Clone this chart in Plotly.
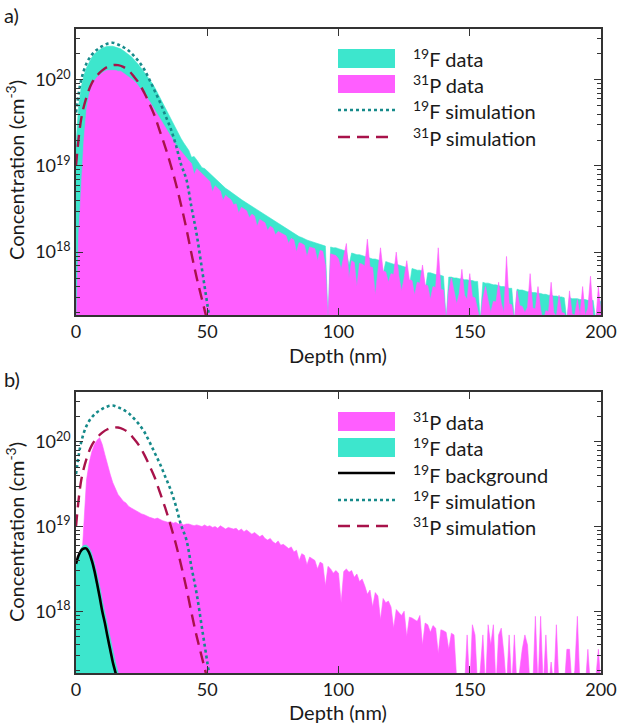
import plotly.graph_objects as go

# ---------------- data (log10 of concentration, cm^-3) ----------------
depth_nm = list(range(0, 201))

# panel a) 19F data
f_data_a_log = [
    19.25, 19.70, 19.92, 20.05, 20.14, 20.21, 20.26, 20.30, 20.33, 20.35,
    20.37, 20.38, 20.39, 20.39, 20.39, 20.38, 20.37, 20.36, 20.34, 20.32,
    20.29, 20.27, 20.24, 20.21, 20.17, 20.13, 20.09, 20.05, 20.01, 19.96,
    19.91, 19.85, 19.79, 19.73, 19.67, 19.61, 19.55, 19.49, 19.43, 19.37,
    19.32, 19.27, 19.22, 19.18, 19.10, 19.11, 19.07, 19.03, 18.98, 18.97,
    18.94, 18.91, 18.88, 18.85, 18.82, 18.80, 18.77, 18.74, 18.72, 18.70,
    18.68, 18.66, 18.63, 18.61, 18.59, 18.57, 18.55, 18.53, 18.51, 18.49,
    18.47, 18.45, 18.43, 18.41, 18.39, 18.37, 18.35, 18.33, 18.31, 18.29,
    18.28, 18.26, 18.24, 18.22, 18.20, 18.18, 18.17, 18.15, 18.14, 18.13,
    18.12, 18.11, 18.10, 18.09, 18.08, 18.07, 17.20, 18.06, 18.05, 18.05,
    18.04, 18.03, 18.02, 18.01, 17.85, 17.99, 17.98, 17.97, 17.97, 17.96,
    17.95, 17.94, 17.93, 17.92, 17.92, 17.91, 17.90, 17.75, 17.89, 17.88,
    17.87, 17.86, 17.86, 17.85, 17.84, 17.83, 17.82, 17.60, 17.81, 17.80,
    17.79, 17.79, 17.78, 17.55, 17.76, 17.76, 17.75, 17.74, 17.74, 17.73,
    17.72, 17.20, 17.71, 17.71, 17.70, 17.70, 17.69, 17.69, 17.68, 17.68,
    17.67, 17.67, 17.66, 17.66, 17.20, 17.65, 17.64, 17.64, 17.63, 17.62,
    17.62, 17.61, 17.60, 17.60, 17.59, 17.58, 17.58, 17.20, 17.57, 17.56,
    17.56, 17.55, 17.54, 17.54, 17.53, 17.53, 17.52, 17.52, 17.51, 17.51,
    17.50, 17.50, 17.49, 17.49, 17.48, 17.48, 17.47, 17.20, 17.47, 17.46,
    17.46, 17.46, 17.45, 17.45, 17.45, 17.44, 17.44, 17.44, 17.20, 17.43,
    17.43,
]

# panel a) 31P data
p_data_a_log = [
    17.00, 18.20, 18.75, 19.30, 19.65, 19.83, 19.93, 19.99, 20.03, 20.06,
    20.08, 20.10, 20.11, 20.11, 20.11, 20.11, 20.10, 20.10, 20.08, 20.06,
    20.04, 20.02, 19.99, 19.96, 19.92, 19.88, 19.84, 19.80, 19.75, 19.70,
    19.65, 19.60, 19.54, 19.49, 19.44, 19.39, 19.34, 19.29, 19.25, 19.21,
    19.17, 19.13, 19.10, 19.06, 19.03, 18.90, 18.97, 18.94, 18.91, 18.88,
    18.85, 18.82, 18.70, 18.77, 18.74, 18.71, 18.60, 18.66, 18.63, 18.61,
    18.55, 18.56, 18.45, 18.52, 18.50, 18.48, 18.40, 18.44, 18.42, 18.30,
    18.38, 18.36, 18.34, 18.25, 18.30, 18.28, 18.20, 18.24, 18.22, 18.21,
    18.19, 18.10, 18.16, 18.14, 18.00, 18.11, 18.10, 18.08, 17.95, 18.06,
    18.05, 18.04, 17.90, 18.02, 18.01, 17.85, 17.20, 17.98, 17.97, 17.96,
    17.92, 17.80, 17.95, 18.10, 17.70, 17.90, 17.88, 17.60, 17.87, 17.86,
    17.84, 18.15, 17.83, 17.82, 17.50, 17.80, 18.05, 17.78, 17.77, 17.65,
    17.75, 17.74, 18.00, 17.72, 17.55, 17.70, 17.90, 17.68, 17.67, 17.50,
    17.65, 17.64, 17.85, 17.62, 17.61, 17.45, 17.60, 17.59, 18.05, 17.57,
    17.56, 17.20, 17.55, 17.70, 17.53, 17.40, 17.52, 17.80, 17.50, 17.45,
    17.75, 17.48, 17.47, 17.35, 17.20, 17.46, 17.60, 17.44, 17.30, 17.43,
    17.42, 17.65, 17.41, 17.30, 17.95, 17.40, 17.39, 17.20, 17.55, 17.38,
    17.37, 17.30, 17.36, 17.75, 17.35, 17.34, 17.60, 17.33, 17.20, 17.32,
    17.31, 17.65, 17.30, 17.25, 17.50, 17.30, 17.29, 17.20, 17.55, 17.28,
    17.27, 17.45, 17.27, 17.60, 17.26, 17.35, 17.72, 17.26, 17.20, 17.60,
    17.30,
]

# panel b) 31P data
p_data_b_log = [
    18.00, 18.20, 18.50, 19.10, 19.55, 19.75, 19.88, 19.97, 20.02, 20.05,
    19.97, 19.85, 19.72, 19.62, 19.52, 19.45, 19.38, 19.34, 19.30, 19.28,
    19.24, 19.22, 19.20, 19.19, 19.17, 19.15, 19.14, 19.12, 19.11, 19.10,
    19.09, 19.10, 19.08, 19.07, 19.06, 19.05, 19.06, 19.04, 19.05, 19.03,
    19.04, 19.02, 19.03, 19.03, 19.02, 19.01, 19.02, 19.01, 19.00, 19.02,
    19.00, 19.01, 18.99, 19.00, 18.98, 19.01, 18.99, 18.97, 18.99, 18.98,
    18.97, 18.98, 18.95, 18.97, 18.94, 18.96, 18.93, 18.91, 18.93, 18.90,
    18.88, 18.90, 18.86, 18.84, 18.86, 18.82, 18.80, 18.83, 18.78, 18.79,
    18.77, 18.74, 18.76, 18.70, 18.72, 18.60, 18.68, 18.66, 18.55, 18.64,
    18.62, 18.60, 18.50, 18.58, 18.56, 18.30, 18.53, 18.50, 18.45, 18.48,
    18.45, 18.10, 18.47, 18.50, 18.46, 18.48, 18.40, 18.44, 18.35, 18.38,
    18.30, 18.20, 18.25, 18.05, 18.22, 18.18, 17.90, 18.15, 18.10, 18.12,
    18.05, 17.80, 18.02, 17.98, 17.95, 18.00, 17.70, 17.93, 17.92, 17.90,
    17.88, 17.95, 17.60, 17.86, 17.84, 17.75, 17.83, 17.80, 17.50, 17.78,
    17.77, 17.75, 17.55, 17.74, 17.72, 17.20, 17.10, 17.10, 17.10, 17.72,
    17.10, 17.84, 17.72, 17.10, 17.30, 17.72, 17.10, 17.84, 17.60, 17.84,
    17.10, 17.72, 17.80, 17.50, 17.10, 17.72, 17.10, 17.72, 17.10, 17.30,
    17.55, 17.72, 17.60, 17.10, 17.10, 17.94, 17.10, 17.94, 17.10, 17.72,
    17.10, 17.40, 17.10, 17.84, 17.10, 17.10, 17.10, 17.55, 17.55, 17.10,
    17.30, 17.94, 17.10, 17.10, 17.10, 17.55, 17.10, 17.10, 17.20, 17.55,
    17.10,
]

# panel b) 19F data and background (near surface only)
depth_f_b_nm = list(range(0, 19))
f_data_b_log = [18.58, 18.68, 18.75, 18.78, 18.78, 18.75, 18.68, 18.57, 18.44, 18.30,
                18.13, 17.98, 17.83, 17.68, 17.53, 17.40, 17.28, 17.10, 17.00]
depth_bg_nm = list(range(0, 17))
f_background_log = [18.56, 18.66, 18.72, 18.74, 18.74, 18.69, 18.60, 18.48, 18.33, 18.17,
                    18.00, 17.86, 17.70, 17.55, 17.40, 17.28, 17.15]

# simulations (same in both panels)
depth_sim_nm = list(range(0, 53, 2))
f_sim_log = [19.62, 20.00, 20.19, 20.29, 20.35, 20.39, 20.42, 20.43, 20.41, 20.38,
             20.34, 20.28, 20.21, 20.12, 20.00, 19.87, 19.74, 19.59, 19.44, 19.25,
             19.02, 18.85, 18.52, 18.20, 17.80, 17.40, 17.00]
p_sim_log = [19.00, 19.55, 19.80, 19.96, 20.05, 20.11, 20.15, 20.17, 20.17, 20.15,
             20.11, 20.04, 19.96, 19.85, 19.72, 19.58, 19.40, 19.22, 19.02, 18.80,
             18.55, 18.28, 17.98, 17.70, 17.45, 17.20, 16.90]

y_tick_vals = [1e18, 1e19, 1e20]
y_tick_text = ["10<sup>18</sup>", "10<sup>19</sup>", "10<sup>20</sup>"]
x_tick_vals = [0, 50, 100, 150, 200]
x_title = "Depth (nm)"
y_title = "Concentration (cm<sup>-3</sup>)"

# ---------------- styles ----------------
TEAL_FILL = "#3de6cd"
MAG_FILL = "#ff5eff"
TEAL_LINE = "#168a8a"
RED_LINE = "#a8124a"
AX = "#333333"
FONT = "Lato"
TXT = "#1a1a1a"
TICK_SIZE = 18
TITLE_SIZE = 20
LEG_SIZE = 20


def pw(a):
    return [10.0 ** v for v in a]


fig = go.Figure()


def fill_trace(x, ylog, color, xa, ya):
    fig.add_trace(go.Scatter(x=x, y=pw(ylog), mode="lines", fill="tozeroy",
                             fillcolor=color, line=dict(color=color, width=0.6),
                             xaxis=xa, yaxis=ya, showlegend=False, hoverinfo="skip"))


def line_trace(x, ylog, color, dash, width, xa, ya):
    fig.add_trace(go.Scatter(x=x, y=pw(ylog), mode="lines",
                             line=dict(color=color, dash=dash, width=width, shape="spline"),
                             xaxis=xa, yaxis=ya, showlegend=False, hoverinfo="skip"))


# panel a
fill_trace(depth_nm, f_data_a_log, TEAL_FILL, "x", "y")
fill_trace(depth_nm, p_data_a_log, MAG_FILL, "x", "y")
line_trace(depth_sim_nm, f_sim_log, TEAL_LINE, "dot", 2.6, "x", "y")
line_trace(depth_sim_nm, p_sim_log, RED_LINE, "12px,7px", 2.4, "x", "y")

# panel b
fill_trace(depth_nm, p_data_b_log, MAG_FILL, "x2", "y2")
fill_trace(depth_f_b_nm, f_data_b_log, TEAL_FILL, "x2", "y2")
line_trace(depth_bg_nm, f_background_log, "#000000", "solid", 2.6, "x2", "y2")
line_trace(depth_sim_nm, f_sim_log, TEAL_LINE, "dot", 2.6, "x2", "y2")
line_trace(depth_sim_nm, p_sim_log, RED_LINE, "12px,7px", 2.4, "x2", "y2")

minor_vals = [float(k) * 10.0 ** n for n in range(17, 21) for k in range(2, 10)]

common = dict(showline=True, linecolor=AX, linewidth=1.5, mirror="ticks",
              ticks="inside", ticklen=7, tickwidth=1.3, tickcolor=AX,
              showgrid=False, zeroline=False, automargin=False,
              tickfont=dict(family=FONT, size=TICK_SIZE, color=TXT))

xcommon = dict(common, range=[0, 200], tickmode="array", tickvals=x_tick_vals)
ycommon = dict(common, type="log", range=[17.27, 20.59], tickmode="array",
               tickvals=y_tick_vals, ticktext=y_tick_text,
               minor=dict(tickmode="array", tickvals=minor_vals, ticks="inside",
                          ticklen=4, tickwidth=1, tickcolor=AX))

L, R, T, B = 76, 19, 29, 51
W, H = 620, 724
PH = H - T - B
PW = W - L - R


def X(px):
    return (px - L) / PW


def Y(py):
    return (H - B - py) / PH


fig.update_layout(
    width=W, height=H, margin=dict(l=L, r=R, t=T, b=B, autoexpand=False),
    paper_bgcolor="white", plot_bgcolor="white",
    font=dict(family=FONT, color=TXT),
    xaxis=dict(xcommon, domain=[0, 1], anchor="y"),
    yaxis=dict(ycommon, domain=[Y(315), 1], anchor="x"),
    xaxis2=dict(xcommon, domain=[0, 1], anchor="y2"),
    yaxis2=dict(ycommon, domain=[0, Y(392)], anchor="x2"),
    showlegend=False,
)

shapes = []
annotations = []


def text_at(px, py, text, size, angle=0, anchor="left"):
    annotations.append(dict(xref="paper", yref="paper", x=X(px), y=Y(py), text=text,
                            showarrow=False, xanchor=anchor, yanchor="middle",
                            textangle=angle, borderpad=0,
                            font=dict(family=FONT, size=size, color=TXT)))


def legend_rect(y0, y1, color):
    shapes.append(dict(type="rect", xref="paper", yref="paper", x0=X(338), x1=X(395),
                       y0=Y(y1), y1=Y(y0), fillcolor=color, line=dict(width=0), layer="above"))


def legend_line(y, color, dash, width):
    shapes.append(dict(type="line", xref="paper", yref="paper", x0=X(338), x1=X(395),
                       y0=Y(y), y1=Y(y), line=dict(color=color, dash=dash, width=width),
                       layer="above"))


def legend_text(y, text):
    text_at(412, y, text, LEG_SIZE)


# axis titles
text_at(338, 355, x_title, TITLE_SIZE, anchor="center")
text_at(338, 712, x_title, TITLE_SIZE, anchor="center")
text_at(15, 170, y_title, TITLE_SIZE, angle=-90, anchor="center")
text_at(15, 532, y_title, TITLE_SIZE, angle=-90, anchor="center")

# legend a
legend_rect(49, 68, TEAL_FILL)
legend_text(58, "<sup>19</sup>F data")
legend_rect(75, 93, MAG_FILL)
legend_text(84, "<sup>31</sup>P data")
legend_line(110, TEAL_LINE, "dot", 2.6)
legend_text(110, "<sup>19</sup>F simulation")
legend_line(137, RED_LINE, "12px,7px", 2.4)
legend_text(137, "<sup>31</sup>P simulation")

# legend b
legend_rect(412, 431, MAG_FILL)
legend_text(421, "<sup>31</sup>P data")
legend_rect(438, 457, TEAL_FILL)
legend_text(447, "<sup>19</sup>F data")
legend_line(473, "#000000", "solid", 2.6)
legend_text(474, "<sup>19</sup>F background")
legend_line(500, TEAL_LINE, "dot", 2.6)
legend_text(500, "<sup>19</sup>F simulation")
legend_line(526, RED_LINE, "12px,7px", 2.4)
legend_text(526, "<sup>31</sup>P simulation")

# panel labels
text_at(3, 15, "a)", TITLE_SIZE)
text_at(3, 379, "b)", TITLE_SIZE)

fig.update_layout(shapes=shapes, annotations=annotations)

fig.write_html(
    "out.html",
    config={"displayModeBar": False},
    post_script="document.body.style.margin='0';document.body.style.padding='0';"
                "document.body.style.overflow='hidden';",
)
